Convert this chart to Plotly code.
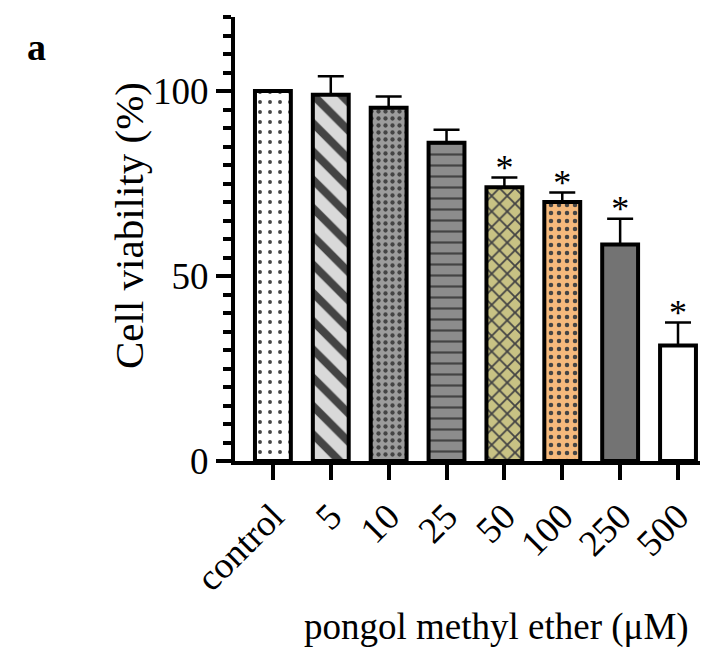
import plotly.graph_objects as go

categories = ["control", "5", "10", "25", "50", "100", "250", "500"]
viability = [100, 99, 95.5, 86, 74, 70, 58.5, 31.2]
sem = [0, 5, 3, 3.5, 2.6, 2.6, 7, 6.2]
significant = [False, False, False, False, True, True, True, True]

bg_colors = ["#ffffff", "#d9d9d9", "#9c9c9c", "#8c8c8c", "#c8c284", "#f5b97c", "#737373", "#ffffff"]
fg_colors = ["#6a6a6a", "#111111", "#2a2a2a", "#111111", "#2d2d1a", "#5a3018", "#000000", "#000000"]
shapes = [".", "\\", ".", "-", "x", ".", "", ""]
sizes = [10, 20, 7, 11, 11, 8, 8, 8]
solidity = [0.12, 0.4, 0.3, 0.2, 0.3, 0.25, 0.3, 0.3]

FONT = "Liberation Serif"
OFF = 8  # page body margin
L, R, T, B = 227, 13, 9, 200
W, H = 713 - OFF, 661 - OFF
PW, PH = W - L - R, H - T - B


def px_to_paper(px, py):
    # px, py are screen coordinates
    fx, fy = px - OFF, py - OFF
    return (fx - L) / PW, (H - B - fy) / PH


fig = go.Figure()
fig.add_trace(go.Bar(
    x=categories, y=viability,
    width=0.62,
    marker=dict(
        color=bg_colors,
        line=dict(color="black", width=4),
        pattern=dict(shape=shapes, fgcolor=fg_colors, fgopacity=1,
                     size=sizes, solidity=solidity, fillmode="overlay"),
    ),
    error_y=dict(type="data", array=sem, arrayminus=[0]*len(sem), symmetric=False,
                 color="black", thickness=2.5, width=13),
    showlegend=False,
))

star_x = [c for c, s in zip(categories, significant) if s]
star_y = [v + e + 1.8 for v, e, s in zip(viability, sem, significant) if s]
fig.add_trace(go.Scatter(
    x=star_x, y=star_y, mode="text", text=["*"] * len(star_x),
    textfont=dict(family=FONT, size=36, color="black"),
    textposition="middle center", showlegend=False, hoverinfo="skip",
))

ax, ay = px_to_paper(36, 47)
fig.add_annotation(text="<b>a</b>", xref="paper", yref="paper", x=ax, y=ay,
                   xanchor="center", yanchor="middle", showarrow=False,
                   font=dict(family=FONT, size=38, color="black"))
tx, ty = px_to_paper(129, 226)
fig.add_annotation(text="Cell viability (%)", xref="paper", yref="paper", x=tx, y=ty,
                   xanchor="center", yanchor="middle", showarrow=False, textangle=-90,
                   font=dict(family=FONT, size=41, color="black"))
xx, xy = px_to_paper(496, 627)
fig.add_annotation(text="pongol methyl ether (μM)", xref="paper", yref="paper", x=xx, y=xy,
                   xanchor="center", yanchor="middle", showarrow=False,
                   font=dict(family=FONT, size=37, color="black"))

fig.update_layout(
    width=W, height=H,
    margin=dict(l=L, r=R, t=T, b=B),
    plot_bgcolor="white", paper_bgcolor="white",
    font=dict(family=FONT, color="black"),
)
fig.update_xaxes(
    range=[-0.655, 7.38], automargin=False,
    showline=True, linecolor="black", linewidth=4,
    ticks="outside", ticklen=15, tickwidth=4, tickcolor="black",
    tickangle=-45, tickfont=dict(family=FONT, size=37),
    showgrid=False, zeroline=False,
)
fig.update_yaxes(
    range=[0, 120], automargin=False,
    tickvals=[0, 50, 100],
    showline=True, linecolor="black", linewidth=4,
    ticks="outside", ticklen=15, tickwidth=4, tickcolor="black",
    tickfont=dict(family=FONT, size=37),
    minor=dict(tickvals=list(range(0, 121, 5)), ticks="outside", ticklen=8, tickwidth=4, tickcolor="black", showgrid=False),
    showgrid=False, zeroline=False,
)

fig.write_html("out.html")
